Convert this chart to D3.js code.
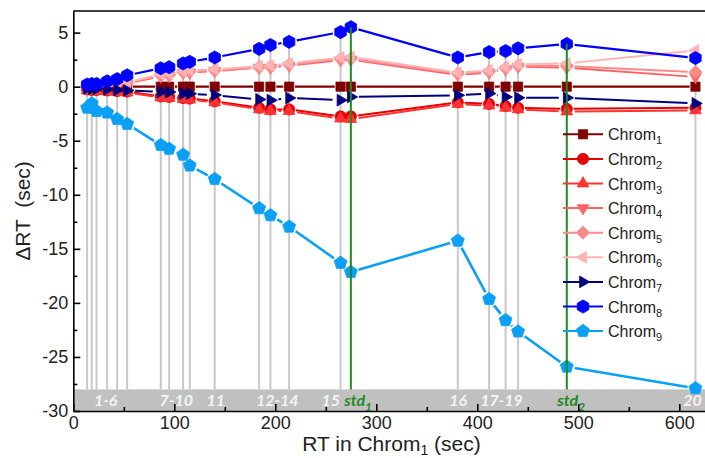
<!DOCTYPE html>
<html>
<head>
<meta charset="utf-8">
<script src="https://cdn.jsdelivr.net/npm/d3@7"></script>
<style>
  html, body { margin: 0; padding: 0; background: #fff; overflow: hidden; }
  svg { display: block; }
</style>
</head>
<body>
<svg id="chart" width="705" height="458"></svg>
<script>
// Retention times of the compounds in Chrom1 (sec)
const compounds = ["1","2","3","4","5","6","7","8","9","10","11","12","13","14","15","std1","16","17","18","19","std2","20"];
const rt = [13.7, 18.3, 23, 33.5, 43.4, 53.3, 86.6, 94.9, 108.7, 115.3, 140, 184, 195.2, 213.7, 264.6, 274.8, 380.7, 411.7, 428, 440.4, 488.6, 616];

// Retention time shift of each chromatogram relative to Chrom1 (sec)
const chrom1 = [0, 0, 0, 0, 0, 0, 0, 0, 0, 0, 0, 0, 0, 0, 0, 0, 0, 0, 0, 0, 0, 0];
const chrom2 = [-0.25, -0.3, -0.3, -0.35, -0.4, -0.45, -0.9, -0.95, -1.05, -1.1, -1.35, -1.95, -2.1, -2.1, -2.75, -2.75, -1.45, -1.6, -1.8, -1.95, -2.05, -1.95];
const chrom3 = [-0.35, -0.4, -0.4, -0.45, -0.5, -0.55, -1.0, -1.05, -1.15, -1.2, -1.45, -2.1, -2.25, -2.25, -2.95, -3.0, -1.6, -1.75, -1.95, -2.1, -2.3, -2.2];
const chrom4 = [0.0, 0.0, 0.05, 0.1, 0.2, 0.3, 0.95, 1.0, 1.3, 1.3, 1.45, 1.75, 1.75, 1.95, 2.45, 2.5, 1.1, 1.3, 1.6, 1.85, 1.75, 0.9];
const chrom5 = [0.05, 0.05, 0.1, 0.15, 0.25, 0.35, 1.05, 1.1, 1.35, 1.4, 1.5, 1.8, 1.85, 2.05, 2.55, 2.6, 1.2, 1.4, 1.7, 1.95, 1.9, 1.35];
const chrom6 = [0.1, 0.1, 0.15, 0.2, 0.3, 0.4, 1.15, 1.2, 1.45, 1.5, 1.6, 1.9, 1.95, 2.15, 2.7, 2.75, 1.3, 1.5, 1.8, 2.05, 2.15, 3.35];
const chrom7 = [-0.15, -0.2, -0.2, -0.25, -0.3, -0.35, -0.48, -0.5, -0.63, -0.65, -0.78, -1.18, -1.25, -1.05, -1.25, -0.95, -0.8, -0.63, -0.95, -1.03, -1.03, -1.55];
const chrom8 = [0.2, 0.25, 0.25, 0.5, 0.7, 1.05, 1.7, 1.8, 2.15, 2.3, 2.7, 3.5, 3.85, 4.15, 5.05, 5.5, 2.7, 3.2, 3.3, 3.55, 3.95, 2.65];
const chrom9 = [-1.95, -1.55, -2.25, -2.4, -3.0, -3.45, -5.4, -5.75, -6.3, -7.3, -8.55, -11.25, -11.9, -12.95, -16.3, -17.15, -14.25, -19.65, -21.6, -22.65, -25.9, -27.9];

const seriesNumbers = ["1", "2", "3", "4", "5", "6", "7", "8", "9"];
const seriesValues = [chrom1, chrom2, chrom3, chrom4, chrom5, chrom6, chrom7, chrom8, chrom9];

// Compound group labels shown in the grey strip
const bandLabelMain = ["1-6", "7-10", "11", "12-14", "15", "std", "16", "17-19", "std", "20"];
const bandLabelSub  = ["", "", "", "", "", "1", "", "", "2", ""];
const bandLabelRT   = [32, 102, 141, 202, 255, 282, 381, 424, 493, 613];

// Axis ticks
const xTicks = [0, 100, 200, 300, 400, 500, 600];
const xMinorTicks = [50, 150, 250, 350, 450, 550];
const yTicks = [-30, -25, -20, -15, -10, -5, 0, 5];
const yMinorTicks = [-27.5, -22.5, -17.5, -12.5, -7.5, -2.5, 2.5];

// ---------- styling ----------
const colors = ["#800000", "#e60000", "#ff3333", "#ff6262", "#ff8a8a", "#ffb3b3", "#00007f", "#0000ff", "#0aa0f5"];
const FONT = "'Liberation Sans', Arial, sans-serif";
const BAND_FONT = "Lato, 'Open Sans', sans-serif";
const GREEN = "#1f8a1f";

// Custom marker shapes (size = circumradius in px)
function polygon(n, rot) {
  return {
    draw(ctx, r) {
      for (let k = 0; k < n; k++) {
        const a = rot + k * 2 * Math.PI / n;
        const px = r * Math.cos(a), py = r * Math.sin(a);
        if (k === 0) ctx.moveTo(px, py); else ctx.lineTo(px, py);
      }
      ctx.closePath();
    }
  };
}
const squareT = { draw(ctx, r) { ctx.rect(-r, -r, 2 * r, 2 * r); } };
const circleT = { draw(ctx, r) { ctx.moveTo(r, 0); ctx.arc(0, 0, r, 0, 2 * Math.PI); } };
const shapes = [
  { type: squareT, r: 4.6 },
  { type: circleT, r: 5.6 },
  { type: polygon(3, -Math.PI / 2), r: 6.8 },
  { type: polygon(3, Math.PI / 2), r: 6.8 },
  { type: polygon(4, 0), r: 6.6 },
  { type: polygon(3, Math.PI), r: 6.8 },
  { type: polygon(3, 0), r: 6.8 },
  { type: polygon(6, -Math.PI / 2), r: 6.6 },
  { type: polygon(5, -Math.PI / 2), r: 6.8 }
];
const lineWidths = [2.2, 2, 2, 2, 2, 2, 2, 2.2, 2.6];

// ---------- layout ----------
const svg = d3.select("#chart");
const plotLeft = 73.3, plotTop = 11, plotBottom = 411;
const x = d3.scaleLinear().domain([0, 630]).range([plotLeft, plotLeft + 630 * 1.01]);
const y = d3.scaleLinear().domain([-30, 7]).range([plotBottom, plotTop]);
const bandTop = -28;

svg.append("defs").append("clipPath").attr("id", "plotclip")
  .append("rect").attr("x", plotLeft).attr("y", plotTop)
  .attr("width", x.range()[1] - plotLeft).attr("height", plotBottom - plotTop);

const plot = svg.append("g").attr("clip-path", "url(#plotclip)");

// Grey strip along the bottom of the plot
plot.append("rect")
  .attr("x", plotLeft).attr("y", y(bandTop))
  .attr("width", x.range()[1] - plotLeft).attr("height", y(-30) - y(bandTop))
  .attr("fill", "#c0c0c0");

// Drop lines from the strip up to each compound
const isStd = compounds.map(c => c.startsWith("std"));
plot.append("g").selectAll("line")
  .data(rt.map((t, i) => i).filter(i => !isStd[i]))
  .join("line")
  .attr("x1", i => x(rt[i])).attr("x2", i => x(rt[i]))
  .attr("y1", y(bandTop)).attr("y2", i => y(chrom8[i]))
  .attr("stroke", "#c8c8c8").attr("stroke-width", 2);

// Series: line segments with a small gap around each marker, then markers
seriesValues.forEach((vals, s) => {
  const g = plot.append("g");
  const pts = vals.map((v, i) => [x(rt[i]), y(v)]);
  const gap = shapes[s].r + 1.2;
  const segs = [];
  for (let i = 0; i < pts.length - 1; i++) {
    const [x0, y0] = pts[i], [x1, y1] = pts[i + 1];
    const d = Math.hypot(x1 - x0, y1 - y0);
    if (d > 2 * gap + 0.5) {
      const ux = (x1 - x0) / d, uy = (y1 - y0) / d;
      segs.push([[x0 + ux * gap, y0 + uy * gap], [x1 - ux * gap, y1 - uy * gap]]);
    }
  }
  g.selectAll("path.seg").data(segs).join("path")
    .attr("class", "seg")
    .attr("d", d3.line())
    .attr("fill", "none")
    .attr("stroke", colors[s])
    .attr("stroke-width", lineWidths[s]);
  const sym = d3.symbol().type(shapes[s].type).size(shapes[s].r);
  g.selectAll("path.mk").data(pts).join("path")
    .attr("class", "mk")
    .attr("transform", p => `translate(${p[0]},${p[1]})`)
    .attr("d", sym)
    .attr("fill", colors[s])
    .attr("stroke", colors[s])
    .attr("stroke-width", 0.8);
});

// Internal standards
plot.append("g").selectAll("line")
  .data(rt.map((t, i) => i).filter(i => isStd[i]))
  .join("line")
  .attr("x1", i => x(rt[i])).attr("x2", i => x(rt[i]))
  .attr("y1", y(bandTop)).attr("y2", i => y(chrom8[i]))
  .attr("stroke", GREEN).attr("stroke-width", 2);

// Strip labels
const bl = svg.append("g")
  .attr("font-family", BAND_FONT).attr("font-style", "italic").attr("font-weight", "bold")
  .attr("font-size", 16);
bandLabelMain.forEach((t, i) => {
  const txt = bl.append("text")
    .attr("x", x(bandLabelRT[i])).attr("y", 406)
    .attr("text-anchor", "middle")
    .attr("fill", bandLabelSub[i] ? GREEN : "#f4f4f4");
  txt.append("tspan").text(t);
  if (bandLabelSub[i]) {
    txt.append("tspan").attr("dy", 5).attr("font-size", 12).text(bandLabelSub[i]);
  }
});

// ---------- axes ----------
const axisStyle = g => {
  g.selectAll(".domain").attr("stroke", "#000").attr("stroke-width", 1.6);
  g.selectAll(".tick line").attr("stroke", "#000").attr("stroke-width", 1.6);
  g.selectAll(".tick text").attr("font-family", FONT).attr("font-size", 18).attr("fill", "#222");
};

svg.append("g").attr("transform", `translate(0,${plotBottom})`)
  .call(d3.axisBottom(x).tickValues(xTicks).tickSize(-7).tickSizeOuter(0).tickPadding(5)
    .tickFormat(d => String(d)))
  .call(axisStyle);
svg.append("g").attr("transform", `translate(0,${plotBottom})`)
  .call(d3.axisBottom(x).tickValues(xMinorTicks).tickSize(-4).tickFormat(""))
  .call(axisStyle)
  .call(g => g.select(".domain").remove());

svg.append("g").attr("transform", `translate(${plotLeft},0)`)
  .call(d3.axisLeft(y).tickValues(yTicks).tickSize(-7).tickSizeOuter(0).tickPadding(5)
    .tickFormat(d => String(d)))
  .call(axisStyle);
svg.append("g").attr("transform", `translate(${plotLeft},0)`)
  .call(d3.axisLeft(y).tickValues(yMinorTicks).tickSize(-4).tickFormat(""))
  .call(axisStyle)
  .call(g => g.select(".domain").remove());

// Top frame line
svg.append("line")
  .attr("x1", plotLeft).attr("x2", 705).attr("y1", plotTop).attr("y2", plotTop)
  .attr("stroke", "#000").attr("stroke-width", 1.6);

// Axis titles
const xt = svg.append("text")
  .attr("x", (plotLeft + x.range()[1]) / 2).attr("y", 451)
  .attr("text-anchor", "middle")
  .attr("font-family", FONT).attr("font-size", 21).attr("fill", "#222");
xt.append("tspan").text("RT in Chrom");
xt.append("tspan").attr("dy", 4).attr("font-size", 14).text("1");
xt.append("tspan").attr("dy", -4).text(" (sec)");

svg.append("text")
  .attr("transform", `translate(30,${(plotTop + plotBottom) / 2}) rotate(-90)`)
  .attr("text-anchor", "middle")
  .attr("font-family", FONT).attr("font-size", 21).attr("fill", "#222")
  .text("\u0394RT \u00a0(sec)");

// ---------- legend ----------
const legend = svg.append("g");
seriesNumbers.forEach((n, s) => {
  const cy = 134.3 + s * 24.6;
  const row = legend.append("g");
  row.append("line")
    .attr("x1", 563).attr("x2", 603).attr("y1", cy).attr("y2", cy)
    .attr("stroke", colors[s]).attr("stroke-width", 2);
  row.append("path")
    .attr("transform", `translate(583,${cy})`)
    .attr("d", d3.symbol().type(shapes[s].type).size(shapes[s].r))
    .attr("fill", colors[s]).attr("stroke", colors[s]).attr("stroke-width", 0.8);
  const t = row.append("text")
    .attr("x", 608).attr("y", cy + 6)
    .attr("font-family", FONT).attr("font-size", 16).attr("fill", "#222");
  t.append("tspan").text("Chrom");
  t.append("tspan").attr("dy", 4).attr("font-size", 11).text(n);
});
</script>
</body>
</html>
